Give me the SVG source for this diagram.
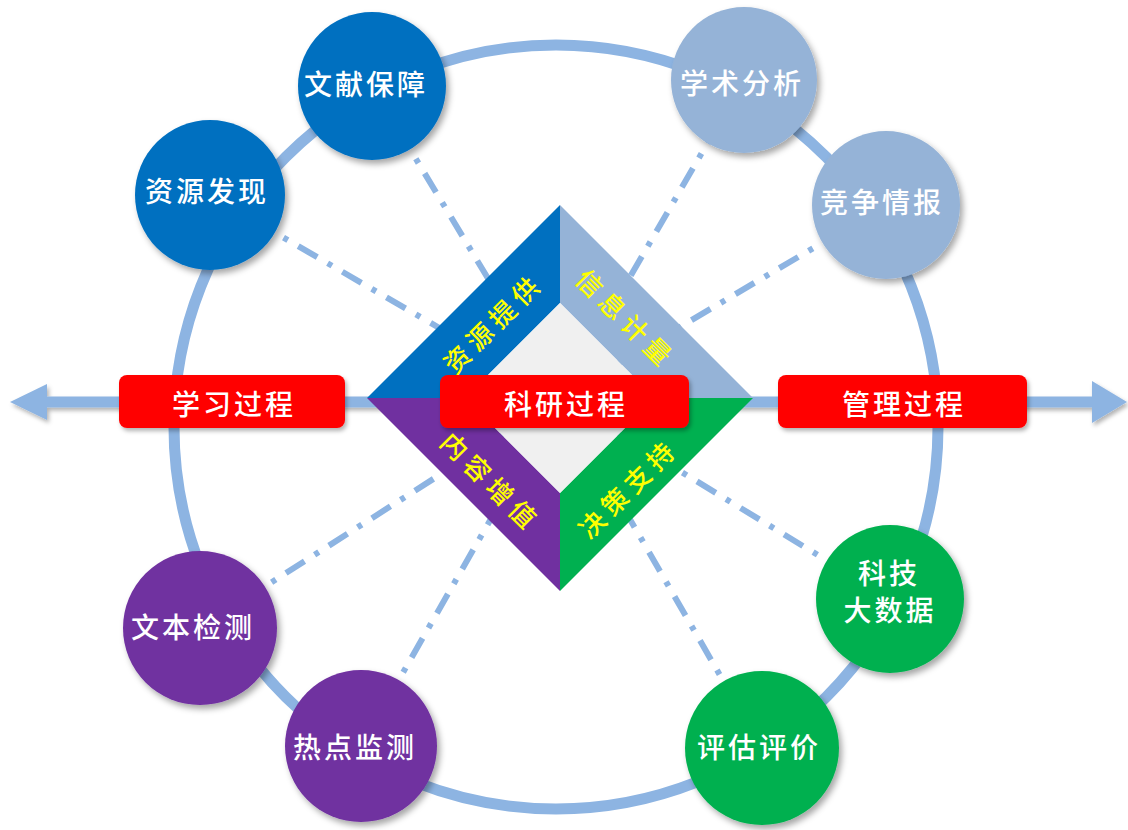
<svg xmlns="http://www.w3.org/2000/svg" width="1128" height="830" viewBox="0 0 1128 830">
<defs>
<filter id="sh" x="-20%" y="-20%" width="150%" height="150%">
<feDropShadow dx="3" dy="4" stdDeviation="3" flood-color="#000" flood-opacity="0.35"/>
</filter>
<filter id="sh2" x="-5%" y="-50%" width="110%" height="200%">
<feDropShadow dx="2" dy="3" stdDeviation="2" flood-color="#000" flood-opacity="0.3"/>
</filter>
</defs>
<style>
.ring{fill:none;stroke:#8DB4E2;stroke-width:11}
.dd{fill:none;stroke:#8DB4E2;stroke-width:6;stroke-dasharray:22 12 5 12}
.ax{stroke:#8DB4E2;stroke-width:11;fill:none}
.ah{fill:#8DB4E2}
.t{font-family:"Noto Sans CJK SC","Noto Sans CJK TC",sans-serif;font-weight:500;fill:#fff;font-size:28px;letter-spacing:3px;text-anchor:middle;dominant-baseline:central}
.y{font-family:"Noto Sans CJK SC","Noto Sans CJK TC",sans-serif;font-weight:500;fill:#FFFF00;font-size:26px;letter-spacing:6px;text-anchor:middle;dominant-baseline:central}
.rb{fill:#FF0000}
.c1{fill:#0070C0}
.c2{fill:#95B3D7}
.c3{fill:#00B050}
.c4{fill:#7030A0}
</style>
<circle class="ring" cx="556" cy="427" r="382"/>
<g id="connectors">
<line class="dd" x1="372" y1="86" x2="560" y2="398"/>
<line class="dd" x1="210" y1="195" x2="560" y2="398"/>
<line class="dd" x1="744" y1="80" x2="560" y2="398"/>
<line class="dd" x1="886" y1="205" x2="560" y2="398"/>
<line class="dd" x1="200" y1="628" x2="560" y2="398"/>
<line class="dd" x1="361" y1="746" x2="560" y2="398"/>
<line class="dd" x1="890" y1="599" x2="560" y2="398"/>
<line class="dd" x1="762" y1="748" x2="560" y2="398"/>
<g filter="url(#sh2)">
<line class="ax" x1="40" y1="402" x2="1095" y2="402"/>
<polygon class="ah" points="10,402 47,384 47,420"/>
<polygon class="ah" points="1127,402 1092,381 1092,423"/>
</g>
</g>
<g id="diamond">
<path class="c1" d="M560,205 L367,398 L465,398 L560,303 Z"/>
<path class="c2" d="M560,205 L753,398 L655,398 L560,303 Z"/>
<path class="c3" d="M753,398 L560,591 L560,493 L655,398 Z"/>
<path class="c4" d="M367,398 L560,591 L560,493 L465,398 Z"/>
<path fill="#F0F0F0" d="M560,303 L655,398 L560,493 L465,398 Z"/>
<text class="y" transform="translate(492,322) rotate(-45)">资源提供</text>
<text class="y" transform="translate(627,318) rotate(45)">信息计量</text>
<text class="y" transform="translate(492,481) rotate(45)">内容增值</text>
<text class="y" transform="translate(627,487) rotate(-45)">决策支持</text>
</g>
<g id="n-wenxian"><circle class="c1" cx="372" cy="86" r="74" filter="url(#sh)"/><text class="t" x="366" y="83">文献保障</text></g>
<g id="n-ziyuan"><circle class="c1" cx="210" cy="195" r="75" filter="url(#sh)"/><text class="t" x="207" y="190">资源发现</text></g>
<g id="n-xueshu"><circle class="c2" cx="744" cy="80" r="73" filter="url(#sh)"/><text class="t" x="742" y="82">学术分析</text></g>
<g id="n-jingzheng"><circle class="c2" cx="886" cy="205" r="74" filter="url(#sh)"/><text class="t" x="882" y="201">竞争情报</text></g>
<g id="n-wenben"><circle class="c4" cx="200" cy="628" r="77" filter="url(#sh)"/><text class="t" x="193" y="626">文本检测</text></g>
<g id="n-redian"><circle class="c4" cx="361" cy="746" r="76" filter="url(#sh)"/><text class="t" x="355" y="746">热点监测</text></g>
<g id="n-keji"><circle class="c3" cx="890" cy="599" r="74" filter="url(#sh)"/><text class="t" x="889" y="572">科技</text><text class="t" x="890" y="609">大数据</text></g>
<g id="n-pinggu"><circle class="c3" cx="762" cy="748" r="77" filter="url(#sh)"/><text class="t" x="759" y="746">评估评价</text></g>
<g id="b-xuexi"><rect class="rb" x="119" y="375" width="226" height="53" rx="8" filter="url(#sh2)"/><text class="t" x="234" y="403">学习过程</text></g>
<g id="b-keyan"><rect class="rb" x="440" y="375" width="249" height="53" rx="8" filter="url(#sh2)"/><text class="t" x="566" y="403">科研过程</text></g>
<g id="b-guanli"><rect class="rb" x="778" y="375" width="249" height="53" rx="8" filter="url(#sh2)"/><text class="t" x="904" y="403">管理过程</text></g>
</svg>
